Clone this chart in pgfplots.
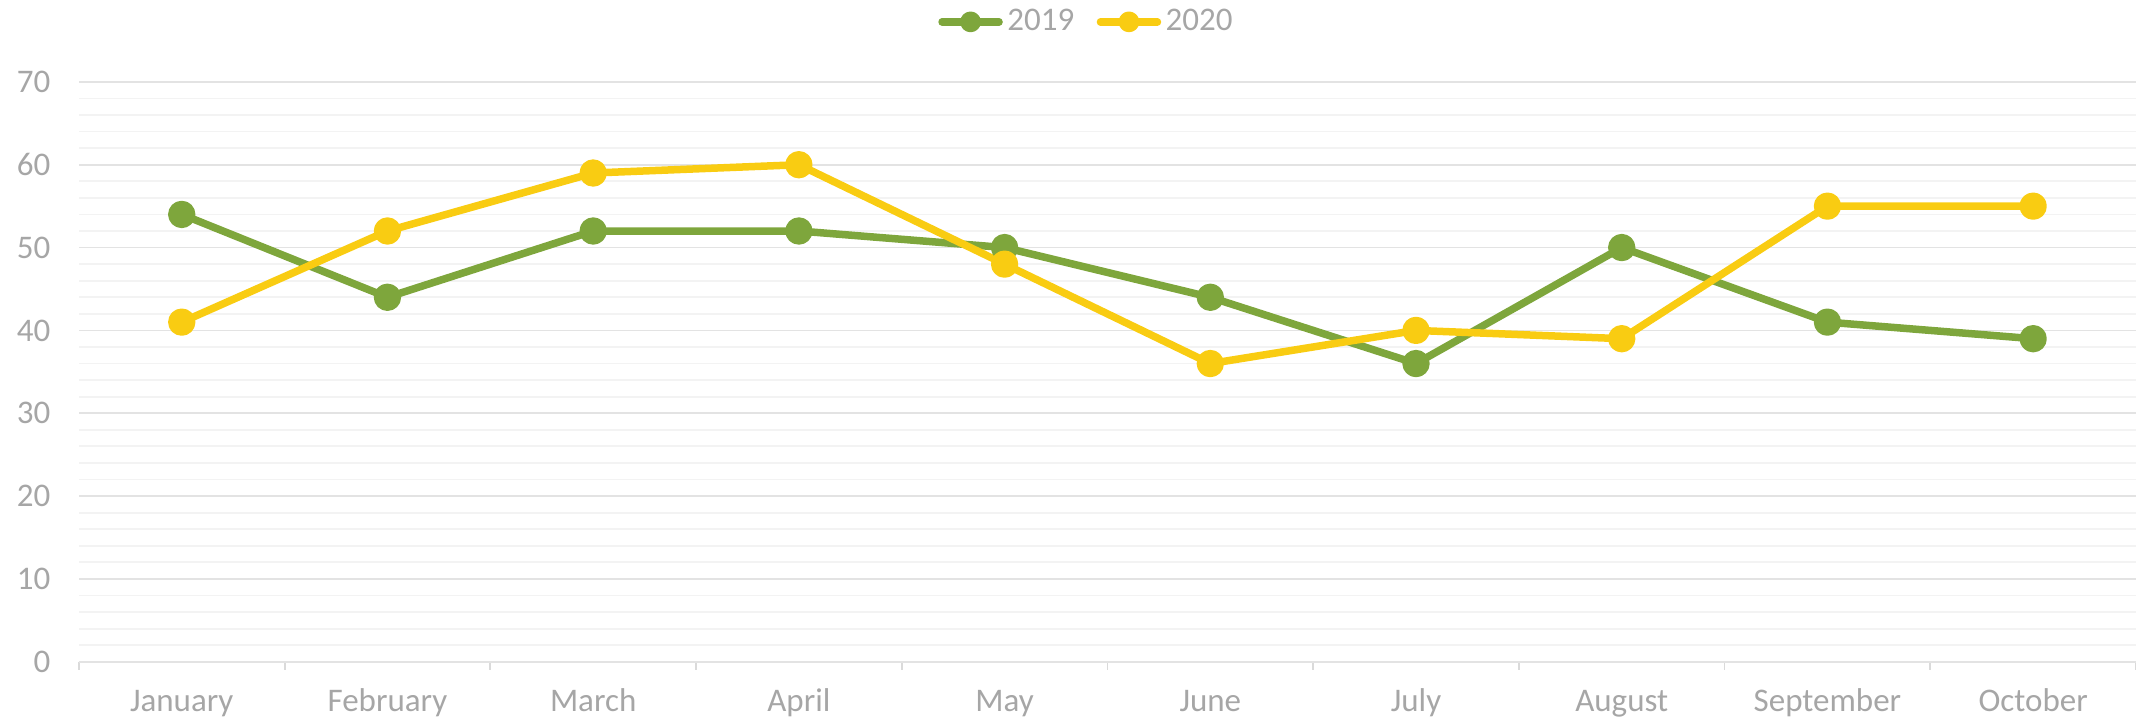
\documentclass[border=0pt]{standalone}
\usepackage{fontspec}
\setmainfont{Carlito}
\usepackage{pgfplots}
\pgfplotsset{compat=1.18}
\definecolor{c19}{HTML}{7EA63C}
\definecolor{c20}{HTML}{F9CC12}
\definecolor{txt}{HTML}{A6A6A6}
\definecolor{majgrid}{HTML}{E3E3E3}
\definecolor{mingrid}{HTML}{F3F3F3}
\definecolor{tickc}{HTML}{DADADA}
\begin{document}
\begin{tikzpicture}
\begin{axis}[
  scale only axis, width=685.7pt, height=193.3pt,
  xmin=-0.5, xmax=9.5, ymin=0, ymax=70,
  xtick={0,...,9},
  xticklabels={January,February,March,April,May,June,July,August,September,October},
  minor xtick={-0.5,0.5,...,9.5},
  ytick={0,10,...,70},
  minor y tick num=4,
  ymajorgrids, yminorgrids,
  major grid style={draw=majgrid, line width=0.6pt},
  minor grid style={draw=mingrid, line width=0.6pt},
  axis x line*=bottom, axis y line*=left,
  y axis line style={draw=none},
  x axis line style={draw=majgrid, line width=0.6pt, -},
  tick align=outside,
  major tick length=0pt,
  minor tick length=2.7pt,
  x tick style={draw=tickc, line width=0.6pt},
  y tick style={draw=none},
  /pgf/number format/assume math mode=true,
  tick label style={font=\fontsize{11}{12}\selectfont, text=txt},
  yticklabel style={xshift=-6pt},
  xticklabel style={anchor=base, yshift=-16.5pt},
  legend style={at={(0.4904,1.1035)}, anchor=center, draw=none, fill=none,
    font=\fontsize{11}{12}\selectfont, text=txt,
    /tikz/every even column/.append style={column sep=6pt},
    nodes={inner sep=1.5pt}},
  legend columns=2,
  legend image code/.code={\draw[line width=2.5pt, line cap=round] (0pt,0pt) -- (19pt,0pt); \fill (9.5pt,0pt) circle (2.2pt);},
]
\coordinate (sw) at (rel axis cs:0,0);
\coordinate (ne) at (rel axis cs:1,1);
\addplot[color=c19, line width=2.5pt, line join=round, mark=*, mark size=3.3pt, mark options={solid, fill=c19, draw=c19}]
  coordinates {(0,54) (1,44) (2,52) (3,52) (4,50) (5,44) (6,36) (7,50) (8,41) (9,39)};
\addlegendentry{2019}
\addplot[color=c20, line width=2.5pt, line join=round, mark=*, mark size=3.3pt, mark options={solid, fill=c20, draw=c20}]
  coordinates {(0,41) (1,52) (2,59) (3,60) (4,48) (5,36) (6,40) (7,39) (8,55) (9,55)};
\addlegendentry{2020}
\end{axis}
\pgfresetboundingbox
\path[use as bounding box] ([shift={(-26.3pt,-18.7pt)}]sw) rectangle ([shift={(0pt,27.3pt)}]ne);
\end{tikzpicture}
\end{document}
